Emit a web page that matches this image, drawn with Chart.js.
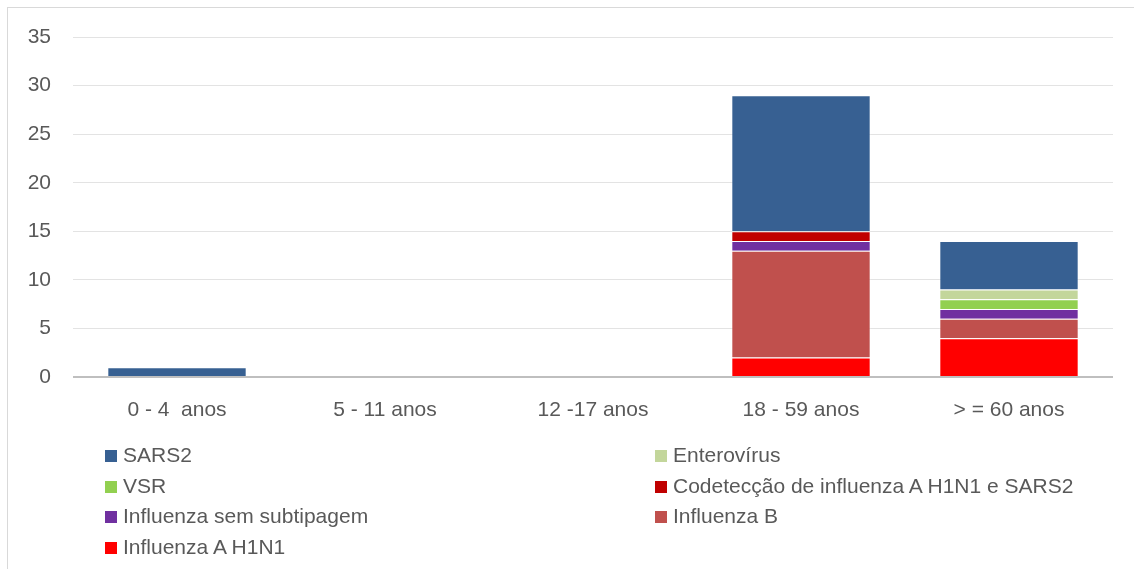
<!DOCTYPE html>
<html>
<head>
<meta charset="utf-8">
<script src="https://cdn.jsdelivr.net/npm/chart.js@4"></script>
<style>
  body { margin: 0; background: #fff; }
  #wrap { position: relative; width: 1134px; height: 569px; overflow: hidden; }
  #frame { position: absolute; left: 7px; top: 7px; width: 1140px; height: 580px; border: 1px solid #d9d9d9; }
  canvas { position: absolute; left: 0; top: 0; }
  .leg { position: absolute; font-family: "Liberation Sans", Arial, sans-serif; font-size: 21px; color: #595959; white-space: nowrap; line-height: 22px; }
  .leg span { display: inline-block; width: 12px; height: 12px; margin-right: 6px; vertical-align: 0px; }
</style>
</head>
<body>
<div id="wrap">
  <div id="frame"></div>
  <canvas id="myChart" width="1134" height="569"></canvas>
  <div id="legend"></div>
</div>
<script>
// Age groups (x axis)
const categories = ['0 - 4  anos', '5 - 11 anos', '12 -17 anos', '18 - 59 anos', '> = 60 anos'];

// Series values, bottom of the stack first
const influenzaAH1N1 = [0, 0, 0, 2, 4];
const influenzaB = [0, 0, 0, 11, 2];
const influenzaSemSubtipagem = [0, 0, 0, 1, 1];
const codeteccao = [0, 0, 0, 1, 0];
const vsr = [0, 0, 0, 0, 1];
const enterovirus = [0, 0, 0, 0, 1];
const sars2 = [1, 0, 0, 14, 5];

// y axis ticks
const yTicks = [0, 5, 10, 15, 20, 25, 30, 35];

const series = [
    { label: 'Influenza A H1N1', data: influenzaAH1N1, color: '#FF0000' },
    { label: 'Influenza B', data: influenzaB, color: '#C0504D' },
    { label: 'Influenza sem subtipagem', data: influenzaSemSubtipagem, color: '#7030A0' },
    { label: 'Codetecção de influenza A H1N1 e SARS2', data: codeteccao, color: '#C00000' },
    { label: 'VSR', data: vsr, color: '#92D050' },
    { label: 'Enterovírus', data: enterovirus, color: '#C3D69B' },
    { label: 'SARS2', data: sars2, color: '#376092' }
];

const font = { family: '"Liberation Sans", Arial, sans-serif', size: 21 };

const ctx = document.getElementById('myChart').getContext('2d');
const myChart = new Chart(ctx, {
    type: 'bar',
    data: {
        labels: categories,
        datasets: series.map(s => ({
            label: s.label,
            data: s.data,
            backgroundColor: s.color,
            borderColor: 'rgba(255,255,255,0.35)',
            borderWidth: c => (c.raw ? 1 : 0),
            categoryPercentage: 1,
            barPercentage: 0.67
        }))
    },
    options: {
        responsive: false,
        animation: false,
        layout: { padding: { top: 37, right: 21, left: 0, bottom: 0 } },
        plugins: { legend: { display: false }, tooltip: { enabled: false } },
        scales: {
            x: {
                stacked: true,
                grid: { display: false },
                border: { display: false },
                ticks: { color: '#595959', font: font, padding: 13, maxRotation: 0 },
                afterFit: s => { s.height = 192; }
            },
            y: {
                stacked: true,
                min: 0,
                max: 35,
                afterBuildTicks: s => { s.ticks = yTicks.map(v => ({ value: v })); },
                grid: {
                    drawTicks: false,
                    color: c => (c.tick.value === 0 ? '#bfbfbf' : '#e3e3e3'),
                    lineWidth: c => (c.tick.value === 0 ? 2 : 1)
                },
                border: { display: false },
                ticks: { color: '#595959', font: font, padding: 22 },
                afterFit: s => { s.width = 73; }
            }
        }
    }
});

// Two-column legend, same order as the original (top of the stack first)
const legendOrder = ['SARS2', 'Enterovírus', 'VSR', 'Codetecção de influenza A H1N1 e SARS2',
    'Influenza sem subtipagem', 'Influenza B', 'Influenza A H1N1'];
const legend = document.getElementById('legend');
legendOrder.forEach((name, i) => {
    const s = series.find(d => d.label === name);
    const el = document.createElement('div');
    el.className = 'leg';
    el.style.left = (i % 2 === 0 ? 105 : 655) + 'px';
    el.style.top = (444 + Math.floor(i / 2) * 30.5) + 'px';
    el.innerHTML = '<span style="background:' + s.color + '"></span>' + name;
    legend.appendChild(el);
});
</script>
</body>
</html>
